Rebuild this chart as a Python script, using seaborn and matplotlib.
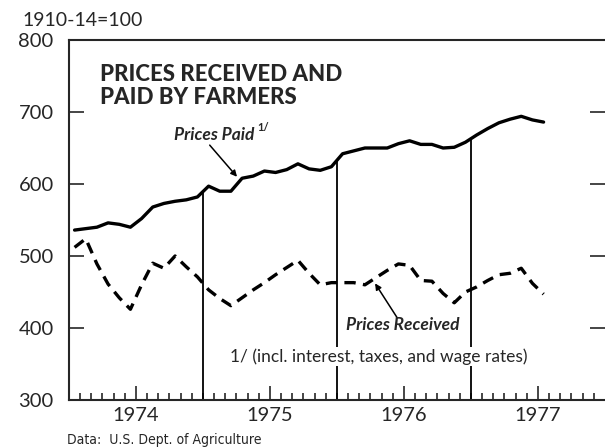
import numpy as np
import pandas as pd
import matplotlib
matplotlib.use("Agg")
import matplotlib.pyplot as plt
import seaborn as sns

# monthly index values, Jan 1974 - Jul 1977 (1910-14=100)
months = pd.date_range("1974-01", periods=43, freq="MS")
prices_paid = [536, 538, 540, 546, 544, 540, 552, 568, 573, 576, 578, 582,
               597, 590, 590, 608, 611, 618, 616, 620, 628, 621, 619, 624,
               642, 646, 650, 650, 650, 656, 660, 655, 655, 650, 651, 658,
               668, 677, 685, 690, 694, 689, 686]
prices_received = [512, 524, 489, 461, 442, 426, 460, 490, 483, 500, 485, 471,
                   453, 441, 431, 442, 453, 463, 474, 484, 494, 476, 460, 463,
                   463, 463, 460, 470, 480, 489, 487, 466, 465, 448, 435, 450,
                   457, 466, 474, 476, 483, 462, 447]
year_labels = ["1974", "1975", "1976", "1977"]
y_ticks = [300, 400, 500, 600, 700, 800]

# decimal year, mid month
t = months.year + (months.month - 0.5) / 12
df = pd.DataFrame({"t": t, "paid": prices_paid, "received": prices_received})

sns.set_style("ticks")
plt.rcParams["font.family"] = ["Lato", "DejaVu Sans"]

fig = plt.figure(figsize=(6.05, 4.48), dpi=100)
ax = fig.add_axes([69 / 605, 48 / 448, 536 / 605, 360 / 448])

sns.lineplot(data=df, x="t", y="paid", ax=ax, color="black", lw=2.4)
sns.lineplot(data=df, x="t", y="received", ax=ax, color="black", lw=2.4,
             linestyle=(0, (3.4, 2.2)))

# year separators up to the prices-paid line
years = np.arange(1975, 1978)
tops = np.interp(years, df["t"], df["paid"])
ax.vlines(years, 300, tops, color="black", lw=1.3, zorder=1)

ax.set_xlim(1974, 1978)
ax.set_ylim(300, 800)
ax.set_yticks(y_ticks)
ax.set_yticklabels([str(v) for v in y_ticks], fontsize=14.5)
ax.set_xticks(np.arange(1974, 1978) + 0.5)
ax.set_xticklabels(year_labels, fontsize=14.5)
ax.set_xticks(np.arange(1974, 1978, 1 / 12), minor=True)
ax.tick_params(axis="x", which="major", direction="in", length=10, width=1.2, pad=5)
ax.tick_params(axis="x", which="minor", direction="in", length=5, width=1.2)
ax.tick_params(axis="y", direction="in", length=11, width=1.2, right=True, pad=11)
ax.set_xlabel("")
ax.set_ylabel("")
for s in ["left", "bottom", "top"]:
    ax.spines[s].set_linewidth(1.5)
ax.spines["right"].set_visible(False)

ax.text(0.058, 0.932, "PRICES RECEIVED AND\nPAID BY FARMERS", transform=ax.transAxes,
        fontsize=16, fontweight="black", va="top", ha="left", linespacing=1.1)

ax.annotate("", xy=(1975.254, 610), xytext=(1975.05, 654),
            arrowprops=dict(arrowstyle="-|>", color="black", lw=1.1,
                            mutation_scale=9, shrinkA=0, shrinkB=0))
ax.text(1975.08, 668, "Prices Paid", fontsize=12.5, fontweight="bold", style="italic",
        ha="center", va="center")
ax.text(1975.45, 679, "1/", fontsize=8, fontweight="bold", ha="center", va="center")

ax.annotate("", xy=(1976.284, 462), xytext=(1976.45, 414),
            arrowprops=dict(arrowstyle="-|>", color="black", lw=1.1,
                            mutation_scale=9, shrinkA=0, shrinkB=0))
ax.text(1976.49, 404, "Prices Received", fontsize=12.5, fontweight="bold", style="italic",
        ha="center", va="center")

ax.text(1975.20, 360, "1/ (incl. interest, taxes, and wage rates)", fontsize=12.5,
        ha="left", va="center",
        bbox=dict(facecolor="white", edgecolor="none", pad=1))

fig.text(22 / 605, 1 - 20 / 448, "1910-14=100", fontsize=14, ha="left", va="center")
fig.text(67 / 605, 1 - 440 / 448, "Data:  U.S. Dept. of Agriculture", fontsize=10,
         ha="left", va="center", fontstretch="condensed",
         family=["DejaVu Sans"])

fig.savefig("out.png", dpi=100)
